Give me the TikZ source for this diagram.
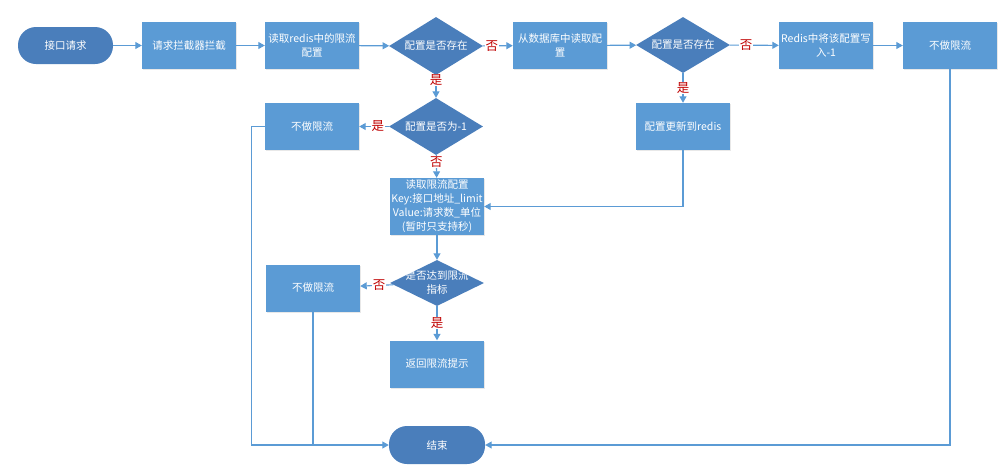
\documentclass[tikz,border=0pt]{standalone}
\usepackage{fontspec}
\setmainfont{Noto Sans CJK SC}
\usetikzlibrary{shapes.geometric, arrows.meta, shadows}
\definecolor{boxblue}{HTML}{5B9BD5}
\definecolor{darkblue}{HTML}{4A7EBB}
\definecolor{linkblue}{HTML}{5B9BD5}
\definecolor{ansred}{HTML}{C00000}

\begin{document}
\begin{tikzpicture}[x=1pt,y=-1pt,
        font=\fontsize{10.5}{14}\selectfont,
        proc/.style={rectangle, fill=boxblue, text=white, align=center,
            minimum width=94pt, minimum height=47pt, inner sep=1pt,
            drop shadow={opacity=0.18, shadow xshift=1.2pt, shadow yshift=-1.2pt}},
        term/.style={rectangle, rounded corners=18pt, fill=darkblue, text=white,
            minimum width=95pt, minimum height=37pt},
        decide/.style={diamond, aspect=2, fill=darkblue, text=white, align=center,
            minimum width=94pt, minimum height=58pt, inner xsep=-8pt, inner ysep=-4pt},
        link/.style={draw=linkblue, line width=1.1pt, -{Triangle[length=6.5pt,width=7pt]}},
        ans/.style={text=ansred, fill=white, inner sep=0.5pt, font=\fontsize{12.5}{13}\selectfont}]
        \useasboundingbox (0,0) rectangle (1007,464);
        % top row
        \node[term] (start) at (65.5,45.5) {接口请求};
        \node[proc] (intercept) at (189,45.5) {请求拦截器拦截};
        \node[proc] (readredis) at (312,45.5) {读取redis中的限流\\配置};
        \node[decide] (exists) at (436,46) {配置是否存在};
        \node[proc] (readdb) at (560,45.5) {从数据库中读取配\\置};
        \node[decide, minimum height=56pt] (existsdb) at (683,45) {配置是否存在};
        \node[proc] (writeneg) at (826,45.5) {Redis中将该配置写\\入-1};
        \node[proc] (nolimita) at (950,45.5) {不做限流};
        % middle
        \node[decide, minimum height=57pt] (isneg) at (436,126.5) {配置是否为-1};
        \node[proc] (nolimitb) at (312,126.5) {不做限流};
        \node[proc] (update) at (683,126.5) {配置更新到redis};
        \node[proc, minimum height=57pt] (readconf) at (437,206.5)
            {读取限流配置\\Key:接口地址\_limit\\Value:请求数\_单位\\(暂时只支持秒)};
        \node[decide, minimum height=46pt] (reached) at (437,283)
            {是否达到限流\\指标};
        \node[proc] (nolimitc) at (313,288) {不做限流};
        \node[proc] (notice) at (437,364) {返回限流提示};
        \node[term, minimum width=96pt, minimum height=38pt] (stop) at (437,445) {结束};
        % connectors
        \draw[link] (start) -- (intercept);
        \draw[link] (intercept) -- (readredis);
        \draw[link] (readredis) -- (exists);
        \draw[link] (exists) -- node[ans, pos=0.3] (na) {否} (readdb);
        \draw[link] (readdb) -- (existsdb);
        \draw[link] (existsdb) -- node[ans, pos=0.33] (nb) {否} (writeneg);
        \draw[link] (writeneg) -- (nolimita);
        \draw[link] (exists) -- node[ans, pos=0.2] (ya) {是} (isneg);
        \draw[link] (isneg) -- node[ans, pos=0.37] (yb) {是} (nolimitb);
        \draw[link] (isneg) -- node[ans, pos=0.3] (nc) {否} (readconf);
        \draw[link] (existsdb) -- node[ans, pos=0.5] (yc) {是} (update);
        \draw[link] (update.south) |- (readconf.east);
        \draw[link] (readconf) -- (reached);
        \draw[link] (reached) -- node[ans, pos=0.43] (nd) {否} (nolimitc);
        \draw[link] (reached) -- node[ans, pos=0.5] (yd) {是} (notice);
        \draw[link] (nolimita.south) |- (stop.east);
        \draw[link] (nolimitb.west) -- ++(-13,0) |- (stop.west);
        \draw[link, -] (nolimitc.south) -- (nolimitc.south |- stop.west);
\end{tikzpicture}
\end{document}
